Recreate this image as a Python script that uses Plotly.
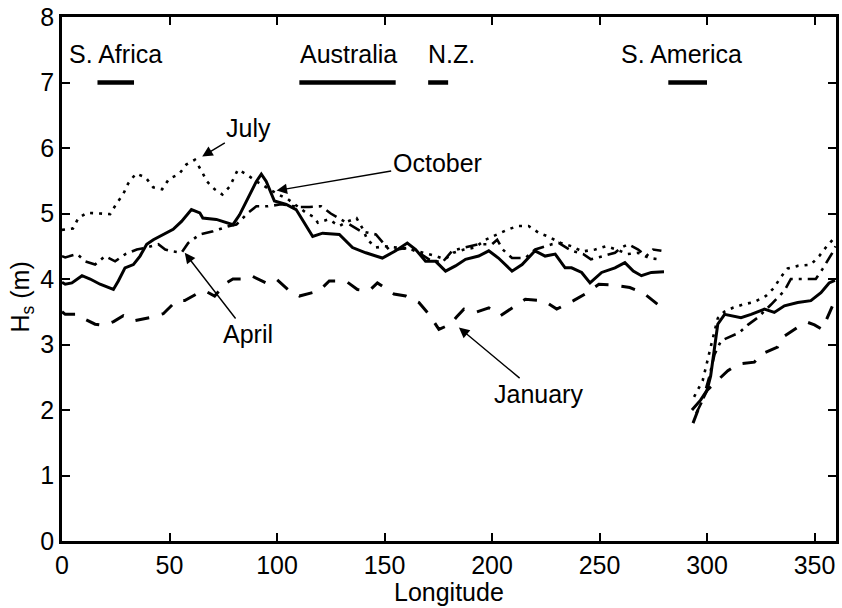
import plotly.graph_objects as go

# Monthly mean significant wave height (m) along the Southern Ocean belt.
# Each series has a western stretch (0-280 E) and an eastern stretch east of S. America.
OCT_LON_W = [0, 1.5, 4.6, 9.3, 13.1, 17.7, 23.9, 26.2, 29.3, 33.2, 36.3, 39.4, 42.5, 47.1, 51.7,
             55.6, 60.2, 64.1, 65.5, 71.8, 79.5, 82.6, 86.5, 90.4, 92.7, 95, 98.8, 104.3, 108.9,
             110.4, 113.5, 116.6, 121.2, 129, 135.1, 141.3, 149, 155.2, 160.6, 164.5, 169.1,
             173.8, 178.4, 183, 187.7, 193.8, 198.5, 203, 209.3, 214, 220, 224.7, 229.4, 234,
             237, 241.7, 245.6, 251, 257.2, 261.8, 265.7, 269.5, 274.1, 280]
OCT_HS_W = [3.95, 3.92, 3.94, 4.05, 4.0, 3.92, 3.84, 3.97, 4.17, 4.22, 4.35, 4.53, 4.6, 4.68, 4.76,
            4.88, 5.06, 5.01, 4.93, 4.91, 4.83, 4.98, 5.24, 5.49, 5.60, 5.49, 5.19, 5.14, 5.06,
            4.98, 4.83, 4.65, 4.70, 4.68, 4.48, 4.40, 4.32, 4.43, 4.55, 4.45, 4.27,
            4.27, 4.12, 4.20, 4.30, 4.35, 4.43, 4.32, 4.12, 4.22, 4.43, 4.35, 4.38, 4.17,
            4.17, 4.10, 3.94, 4.10, 4.17, 4.25, 4.12, 4.05, 4.10, 4.11]
OCT_LON_E = [293, 297, 300, 301.7, 303.5, 305, 308.2, 311.2, 315.8, 320.5, 326.7, 331.3, 336,
             342.2, 348.3, 353, 356.8, 359.5]
OCT_HS_E = [2.0, 2.15, 2.3, 2.52, 2.95, 3.31, 3.46, 3.44, 3.41, 3.46, 3.54, 3.49, 3.59,
            3.64, 3.67, 3.79, 3.94, 3.98]

JAN_LON_W = [0, 1.5, 7.7, 11, 15.4, 19.3, 24, 28.5, 33.2, 40.9, 47.1, 53.3, 57.1, 59.5, 63,
             66.4, 71, 76.4, 79.5, 84.2, 88, 95, 99.6, 105.8, 110.4, 119.7, 124.3, 132, 137.4,
             142.9, 146.7, 154.4, 159.9, 166, 170.7, 175.3, 180.7, 183.5, 186.9, 192.3, 198.5,
             203.9, 210.8, 215.5, 224, 230.1, 237.9, 243.3, 249.7, 255.6, 264.1, 270.3, 277.2,
             280.4]
JAN_HS_W = [3.5, 3.46, 3.46, 3.38, 3.31, 3.29, 3.35, 3.44, 3.36, 3.41, 3.47, 3.67, 3.67, 3.72, 3.78,
            3.82, 3.74, 3.94, 4.0, 4.0, 4.05, 3.94, 4.0, 3.82, 3.74, 3.82, 3.97, 3.97, 3.84,
            3.82, 3.94, 3.77, 3.74, 3.64, 3.46, 3.23, 3.31, 3.42, 3.54, 3.49, 3.56,
            3.44, 3.59, 3.69, 3.67, 3.54, 3.67, 3.77, 3.92, 3.91, 3.87, 3.79, 3.61,
            3.56]
JAN_LON_E = [293.5, 297, 300, 305, 309.7, 314.3, 322, 325.1, 332.8, 335.2, 342.1, 346.7, 350,
             353.6, 356, 358.5]
JAN_HS_E = [1.8, 2.1, 2.3, 2.45, 2.6, 2.7, 2.73, 2.85, 2.96, 3.11, 3.26, 3.34, 3.3,
            3.23, 3.41, 3.6]

JUL_LON_W = [0, 5.1, 7.6, 11.7, 17.7, 22.4, 25.5, 28.4, 30.8, 34.4, 38.9, 42.4, 46.6, 49.8, 54.4,
             57.9, 61.8, 64.9, 67.4, 71, 74.6, 78, 81.8, 85.7, 90, 95, 100, 105, 110, 114, 117,
             119, 124, 129, 133, 137, 140, 142, 146, 150, 156, 162, 168, 174, 178, 182, 187,
             192, 197, 202, 207, 212, 217, 222, 226, 232, 237, 242, 248, 253, 258, 263, 268,
             273, 278]
JUL_HS_W = [4.75, 4.77, 4.93, 5.01, 5.0, 4.99, 5.16, 5.29, 5.46, 5.61, 5.55, 5.40, 5.37, 5.53, 5.6,
            5.75, 5.82, 5.65, 5.49, 5.37, 5.29, 5.41, 5.67, 5.6, 5.5, 5.4, 5.3, 5.22, 5.1, 5.0, 4.95,
            4.86, 4.91, 4.81, 4.88, 4.93, 4.76, 4.6, 4.48, 4.5, 4.48, 4.45, 4.4, 4.35, 4.3, 4.4, 4.45,
            4.48, 4.6, 4.68, 4.75, 4.81, 4.81, 4.7, 4.65, 4.55, 4.5, 4.42, 4.45, 4.5, 4.45, 4.38, 4.4,
            4.32, 4.3]
JUL_LON_E = [294, 298, 302, 305, 308, 312, 316.6, 322, 327.4, 331.3, 334.1, 337.5, 342.2, 348.3,
             352.2, 355.7, 359]
JUL_HS_E = [2.2, 2.45, 3.0, 3.4, 3.5, 3.56, 3.61, 3.65, 3.74, 3.87, 4.02, 4.16, 4.2, 4.22,
            4.35, 4.5, 4.62]

APR_LON_W = [0, 1.5, 7, 10.8, 15.4, 20, 24.7, 29.5, 34.8, 39.4, 44.8, 48, 51.7, 55.6, 58.7, 64.1,
             70.3, 78, 81.1, 86.5, 90.4, 95.7, 101.9, 106.6, 110, 115, 120.5, 125, 132, 139, 146,
             152.1, 156, 161.4, 166, 170.7, 176.8, 181.5, 186.9, 193.8, 200, 202.4, 205, 209.3,
             215.5, 220.1, 227.8, 231, 237, 242.5, 246, 251, 257.2, 260.2, 263.4, 268, 271.8,
             274.9, 278.8]
APR_HS_W = [4.35, 4.33, 4.38, 4.27, 4.22, 4.35, 4.27, 4.38, 4.45, 4.48, 4.53, 4.45, 4.42, 4.40, 4.55,
            4.68, 4.73, 4.81, 4.83, 5.01, 5.11, 5.11, 5.14, 5.11, 5.1, 5.1, 5.11, 5.0, 4.86, 4.73,
            4.68, 4.45, 4.45, 4.48, 4.4, 4.30, 4.25, 4.43, 4.48, 4.53, 4.53, 4.6, 4.45, 4.32,
            4.32, 4.45, 4.53, 4.55, 4.43, 4.38, 4.3, 4.35, 4.4, 4.48, 4.53, 4.45, 4.35,
            4.45, 4.43]
APR_LON_E = [295, 298, 301, 303.5, 306.6, 311, 315, 319, 323.6, 329.8, 336, 339, 342.2, 346,
             350.6, 353.7, 356, 358.3, 359.8]
APR_HS_E = [1.95, 2.15, 2.5, 2.85, 3.06, 3.12, 3.18, 3.3, 3.41, 3.61, 3.82, 4.0, 4.0, 4.0,
            4.0, 4.15, 4.27, 4.4, 4.5]

# Land masses interrupting the belt: longitude extents
REGIONS = ["S. Africa", "Australia", "N.Z.", "S. America"]
REGION_START = [16.5, 110.4, 170.3, 282]
REGION_END = [33.5, 155.2, 179.6, 300]

X_TICKS = [0, 50, 100, 150, 200, 250, 300, 350]
Y_TICKS = [0, 1, 2, 3, 4, 5, 6, 7, 8]

FONT = "Liberation Sans, Arial, Helvetica, sans-serif"


def join(lon_w, hs_w, lon_e, hs_e):
    """Combine the two stretches into one trace with a break between them."""
    w = list(zip(lon_w, hs_w))
    e = list(zip(lon_e, hs_e))
    xs = [p[0] for p in w] + [None] + [p[0] for p in e]
    ys = [p[1] for p in w] + [None] + [p[1] for p in e]
    return xs, ys


fig = go.Figure()

series = [
    ("January", JAN_LON_W, JAN_HS_W, JAN_LON_E, JAN_HS_E, dict(width=3, dash="14px,13px")),
    ("April", APR_LON_W, APR_HS_W, APR_LON_E, APR_HS_E, dict(width=2.6, dash="12px,6px,3px,6px")),
    ("July", JUL_LON_W, JUL_HS_W, JUL_LON_E, JUL_HS_E, dict(width=2.6, dash="3px,6px")),
    ("October", OCT_LON_W, OCT_HS_W, OCT_LON_E, OCT_HS_E, dict(width=3)),
]
for name, lw, hw, le, he, style in series:
    xs, ys = join(lw, hw, le, he)
    fig.add_trace(go.Scatter(x=xs, y=ys, mode="lines", name=name,
                             line=dict(color="black", **style),
                             connectgaps=False, showlegend=False))

# Land-mass bars
for name, x0, x1 in zip(REGIONS, REGION_START, REGION_END):
    fig.add_trace(go.Scatter(x=[x0, x1], y=[7.0, 7.0], mode="lines",
                             line=dict(color="black", width=4.5), showlegend=False))

label_font = dict(family=FONT, size=25, color="black")
region_label_lon = [2.3, 109.6, 169.1, 259.2]
annotations = []
for name, lx in zip(REGIONS, region_label_lon):
    annotations.append(dict(x=lx, y=7.44, xref="x", yref="y", text=name, showarrow=False,
                            xanchor="left", yanchor="middle", font=label_font))

# Month labels with pointer arrows: (text, label centre lon, label centre Hs, tip lon, tip Hs)
month_labels = [
    ("July", 86.9, 6.30, 65.2, 5.87),
    ("October", 174.5, 5.77, 99.8, 5.35),
    ("April", 86.3, 3.16, 57.1, 4.40),
    ("January", 221.5, 2.25, 184.6, 3.26),
]
for text, tx, ty, hx, hy in month_labels:
    annotations.append(dict(x=hx, y=hy, ax=tx, ay=ty, xref="x", yref="y", axref="x", ayref="y",
                            text=text, font=label_font, showarrow=True, arrowhead=2,
                            arrowsize=1.5, arrowwidth=1.4, arrowcolor="black"))

# Axis titles
annotations.append(dict(x=0.5, y=-0.1274, xref="paper", yref="paper", text="Longitude",
                        showarrow=False, xanchor="center", yanchor="bottom", font=label_font))
annotations.append(dict(x=-0.0515, y=0.465, xref="paper", yref="paper", text="H<sub>s</sub> (m)",
                        showarrow=False, xanchor="center", yanchor="middle", textangle=-90,
                        font=label_font))

axis_common = dict(showgrid=False, zeroline=False, showline=True, linecolor="black",
                   linewidth=2.5, mirror="ticks", ticks="inside", ticklen=8, tickwidth=2,
                   tickcolor="black", tickfont=dict(family=FONT, size=25, color="black"))

fig.update_layout(
    width=842, height=608,
    margin=dict(l=62, r=3, t=15, b=67),
    paper_bgcolor="white", plot_bgcolor="white",
    xaxis=dict(range=[0, 360], tickvals=X_TICKS, **axis_common),
    yaxis=dict(range=[0, 8], tickvals=Y_TICKS, **axis_common),
    annotations=annotations,
)

fig.write_html("out.html")
